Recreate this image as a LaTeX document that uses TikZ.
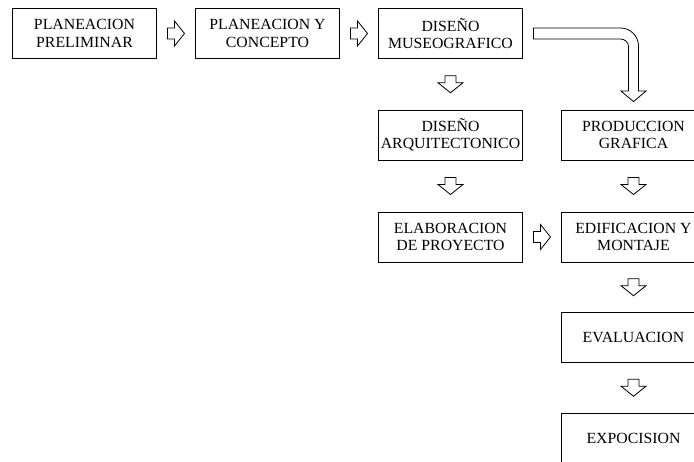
\documentclass[tikz,border=0pt]{standalone}
\usepackage{fontspec}
\setmainfont[FakeStretch=1.02]{Liberation Serif}
\usetikzlibrary{calc}

% stage boxes and the hollow block arrows used between them
\tikzset{
  stagebox/.style={draw=black, line width=0.8pt, minimum width=144pt, minimum height=50pt,
    inner sep=0pt, align=center, font=\fontsize{15.5}{17.5}\selectfont},
  blockarrow/.style={draw=black, fill=white, line width=0.8pt, line join=miter},
}
\newcommand{\arrowright}[1]{%
  \draw[blockarrow, shift={(#1)}] (-8.5,-5.5) -- (-1.5,-5.5) -- (-1.5,-12.5) -- (8.5,0)
    -- (-1.5,12.5) -- (-1.5,5.5) -- (-8.5,5.5) -- cycle;}
\newcommand{\arrowdown}[1]{%
  \draw[blockarrow, shift={(#1)}] (-5.5,-8.5) -- (-5.5,-1.5) -- (-12.5,-1.5) -- (0,8.5)
    -- (12.5,-1.5) -- (5.5,-1.5) -- (5.5,-8.5) -- cycle;}

\begin{document}
\begin{tikzpicture}[x=1pt, y=-1pt]
\useasboundingbox (0,0) rectangle (694,462);
\clip (0,0) rectangle (694,462);

% stages
\node[stagebox] (prelim) at (84.5,33.5)  {PLANEACION\\PRELIMINAR};
\node[stagebox] (concep) at (267.5,33.5) {PLANEACION Y\\CONCEPTO};
\node[stagebox] (museo)  at (450.5,33.5) {DISEÑO\\MUSEOGRAFICO};
\node[stagebox] (arqui)  at (450.5,135)  {DISEÑO\\ARQUITECTONICO};
\node[stagebox] (graf)   at (633.5,135)  {PRODUCCION\\GRAFICA};
\node[stagebox] (proy)   at (450.5,237)  {ELABORACION\\DE PROYECTO};
\node[stagebox] (montaje) at (633.5,237) {EDIFICACION Y\\MONTAJE};
\node[stagebox] (eval)   at (633.5,337.5) {EVALUACION};
\node[stagebox] (expo)   at (633.5,438)  {EXPOCISION};

% arrow positions halfway between the stages
\coordinate (a1) at ($(prelim.east)!0.5!(concep.west)$);
\coordinate (a2) at ($(concep.east)!0.5!(museo.west)$);
\coordinate (a3) at ($(museo.south)!0.5!(arqui.north)$);
\coordinate (a4) at ($(arqui.south)!0.5!(proy.north)$);
\coordinate (a5) at ($(proy.east)!0.5!(montaje.west)$);
\coordinate (a6) at ($(graf.south)!0.5!(montaje.north)$);
\coordinate (a7) at ($(montaje.south)!0.5!(eval.north)$);
\coordinate (a8) at ($(eval.south)!0.5!(expo.north)$);

\arrowright{a1}
\arrowright{a2}
\arrowdown{a3}
\arrowdown{a4}
\arrowright{a5}
\arrowdown{a6}
\arrowdown{a7}
\arrowdown{a8}

% bent arrow from DISEÑO MUSEOGRAFICO down to PRODUCCION GRAFICA
\coordinate (bs) at ($(museo.east)+(10.5,0)$);
\coordinate (bc) at (graf.north |- museo.east);
\coordinate (bt) at ($(graf.north)+(0,-17.5)$);
\draw[blockarrow]
  ($(bs)+(0,-5.5)$) -- ($(bc)+(-13,-5.5)$)
  .. controls ($(bc)+(-3.06,-5.5)$) and ($(bc)+(5,2.56)$) .. ($(bc)+(5,12.5)$)
  -- ($(bt)+(5,-1)$) -- ($(bt)+(12.5,-1)$) -- ($(bt)+(0,9.5)$) -- ($(bt)+(-12.5,-1)$)
  -- ($(bt)+(-5,-1)$) -- ($(bc)+(-5,12.5)$)
  .. controls ($(bc)+(-5,8.63)$) and ($(bc)+(-9.13,5.5)$) .. ($(bc)+(-13,5.5)$)
  -- ($(bs)+(0,5.5)$) -- cycle;
\end{tikzpicture}
\end{document}
